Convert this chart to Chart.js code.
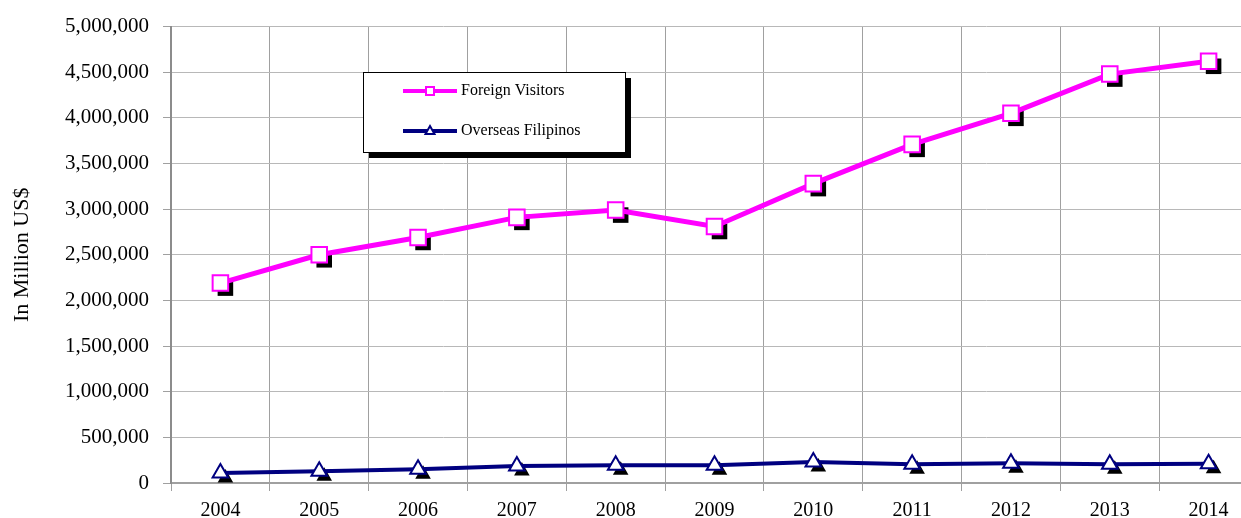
<!DOCTYPE html>
<html>
<head>
<meta charset="utf-8">
<script src="https://cdn.jsdelivr.net/npm/chart.js@4/dist/chart.umd.min.js"></script>
<style>
  html, body { margin: 0; padding: 0; background: #fff; overflow: hidden; }
  #wrap { width: 1271px; height: 518px; }
</style>
</head>
<body>
<div id="wrap"><canvas id="receipts" width="1271" height="518"></canvas></div>
<script>
const years = ['2004', '2005', '2006', '2007', '2008', '2009', '2010', '2011', '2012', '2013', '2014'];
const foreignVisitors = [2190000, 2500000, 2690000, 2910000, 2990000, 2810000, 3280000, 3710000, 4050000, 4480000, 4620000];
const overseasFilipinos = [110000, 130000, 150000, 185000, 195000, 195000, 230000, 205000, 215000, 205000, 210000];

const FONT = "'Liberation Serif', 'Times New Roman', serif";

// black drop shadow under every marker
const markerShadow = {
    id: 'markerShadow',
    beforeDatasetsDraw(chart) {
        const ctx = chart.ctx;
        ctx.save();
        ctx.fillStyle = '#000';
        chart.data.datasets.forEach((ds, i) => {
            const meta = chart.getDatasetMeta(i);
            const r = ds.pointRadius;
            meta.data.forEach(pt => {
                const x = pt.x + 5, y = pt.y + 5;
                ctx.beginPath();
                if (ds.pointStyle === 'rect') {
                    const s = r * Math.SQRT1_2;
                    ctx.rect(x - s, y - s, 2 * s, 2 * s);
                } else {
                    ctx.moveTo(x, y - r);
                    ctx.lineTo(x + r * Math.sin(Math.PI / 3), y + r / 2);
                    ctx.lineTo(x - r * Math.sin(Math.PI / 3), y + r / 2);
                    ctx.closePath();
                }
                ctx.fill();
            });
        });
        ctx.restore();
    }
};

// boxed legend with a shadow, placed inside the plot
const boxLegend = {
    id: 'boxLegend',
    afterDraw(chart) {
        const ctx = chart.ctx;
        const bx = 363, by = 72, bw = 262, bh = 80;
        ctx.save();
        ctx.fillStyle = '#000';
        ctx.fillRect(bx + 6, by + 6, bw, bh);
        ctx.fillStyle = '#fff';
        ctx.fillRect(bx, by, bw, bh);
        ctx.strokeStyle = '#000';
        ctx.lineWidth = 1;
        ctx.strokeRect(bx + 0.5, by + 0.5, bw, bh);

        chart.data.datasets.forEach((ds, i) => {
            const y = by + 19 + i * 40;
            ctx.strokeStyle = ds.borderColor;
            ctx.lineWidth = 4;
            ctx.beginPath();
            ctx.moveTo(403, y);
            ctx.lineTo(457, y);
            ctx.stroke();

            ctx.fillStyle = '#fff';
            ctx.lineWidth = 2;
            ctx.beginPath();
            if (ds.pointStyle === 'rect') {
                ctx.rect(426, y - 4, 8, 8);
            } else {
                ctx.moveTo(430, y - 5);
                ctx.lineTo(434.5, y + 3);
                ctx.lineTo(425.5, y + 3);
                ctx.closePath();
            }
            ctx.fill();
            ctx.stroke();

            ctx.fillStyle = '#000';
            ctx.font = '16px ' + FONT;
            ctx.textBaseline = 'middle';
            ctx.fillText(ds.label, 461, y);
        });
        ctx.restore();
    }
};

new Chart(document.getElementById('receipts'), {
    type: 'line',
    data: {
        labels: years,
        datasets: [{
            label: 'Foreign Visitors',
            data: foreignVisitors,
            borderColor: '#ff00ff',
            borderWidth: 5,
            pointStyle: 'rect',
            pointRadius: 11,
            pointBorderWidth: 2,
            pointBackgroundColor: '#fff',
            pointBorderColor: '#ff00ff',
            tension: 0
        }, {
            label: 'Overseas Filipinos',
            data: overseasFilipinos,
            borderColor: '#000080',
            borderWidth: 4,
            pointStyle: 'triangle',
            pointRadius: 9,
            pointBorderWidth: 2,
            pointBackgroundColor: '#fff',
            pointBorderColor: '#000080',
            tension: 0
        }]
    },
    options: {
        responsive: false,
        animation: false,
        layout: { padding: { top: 25, right: 4, left: 0, bottom: 0 } },
        plugins: {
            legend: { display: false },
            tooltip: { enabled: false }
        },
        scales: {
            x: {
                offset: true,
                grid: { offset: true, color: '#a0a0a0', tickColor: '#a0a0a0', tickLength: 8 },
                border: { color: '#a0a0a0', width: 2 },
                ticks: { color: '#000', font: { family: FONT, size: 20 }, padding: 8, maxRotation: 0 },
                afterFit(scale) { scale.height = 35; }
            },
            y: {
                min: 0,
                max: 5000000,
                grid: { color: '#b8b8b8', tickColor: '#a0a0a0', tickLength: 8 },
                border: { color: '#8c8c8c', width: 2 },
                ticks: {
                    stepSize: 500000,
                    color: '#000',
                    padding: 14,
                    font: { family: FONT, size: 21 },
                    callback: v => v.toLocaleString('en-US')
                },
                title: {
                    display: true,
                    text: 'In Million US$',
                    color: '#000',
                    font: { family: FONT, size: 22 },
                    padding: { top: 9, bottom: 0 }
                },
                afterFit(scale) { scale.width = 171; }
            }
        }
    },
    plugins: [markerShadow, boxLegend]
});
</script>
</body>
</html>
